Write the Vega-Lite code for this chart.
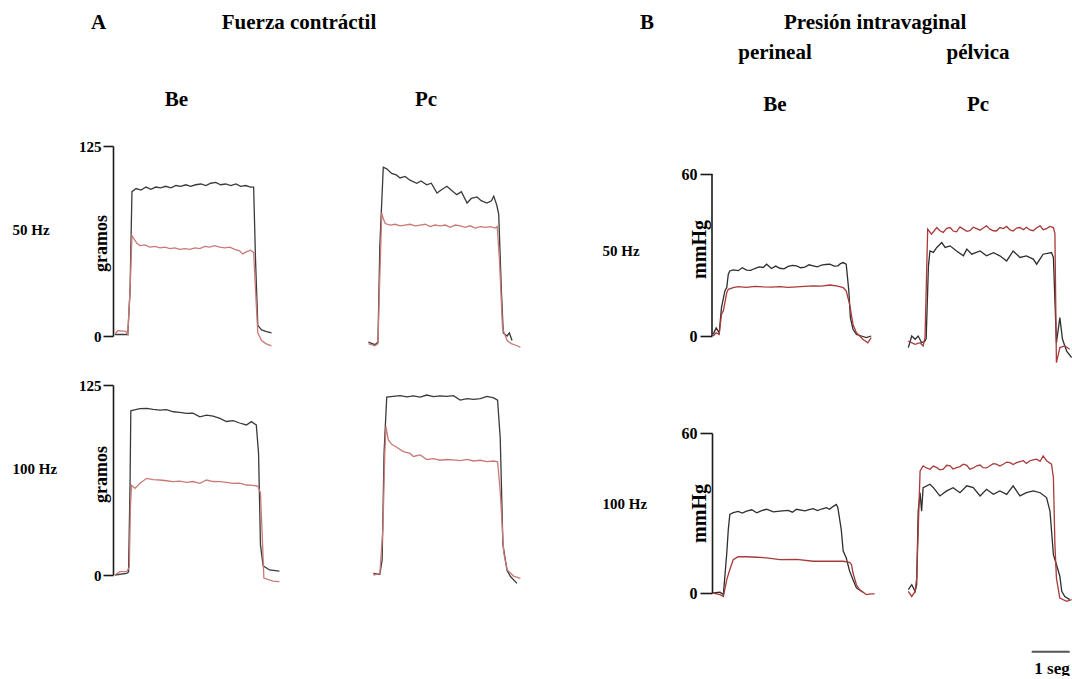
{
"$schema": "https://vega.github.io/schema/vega-lite/v6.json",
"background": "white",
"padding": {"left": 12, "top": 11, "right": 0, "bottom": 0},
"config": {
 "view": {"stroke": null},
 "font": "Liberation Serif",
 "title": {"font": "Liberation Serif", "fontSize": 21, "fontWeight": "bold", "color": "#000", "subtitleFont": "Liberation Serif", "subtitleFontSize": 21, "subtitleFontWeight": "bold", "subtitleColor": "#000", "frame": "group", "anchor": "middle"},
 "axis": {"grid": false, "domainColor": "#1a1a1a", "tickColor": "#1a1a1a", "domainWidth": 1.6, "tickWidth": 1.6, "labelFont": "Liberation Serif", "labelFontWeight": "bold", "labelColor": "#000", "titleFont": "Liberation Serif", "titleFontWeight": "bold", "titleColor": "#000"}
},
"data": {"name": "trazos"},
"datasets": {"trazos": [
{"p":"ABe50","s":"negro","t":0.05,"v":1},{"p":"ABe50","s":"negro","t":0.39,"v":1},{"p":"ABe50","s":"negro","t":0.45,"v":30},{"p":"ABe50","s":"negro","t":0.5,"v":95},{"p":"ABe50","s":"negro","t":0.61,"v":97},{"p":"ABe50","s":"negro","t":0.74,"v":96},{"p":"ABe50","s":"negro","t":0.87,"v":98},{"p":"ABe50","s":"negro","t":1.0,"v":96.5},{"p":"ABe50","s":"negro","t":1.13,"v":98},{"p":"ABe50","s":"negro","t":1.26,"v":97.5},{"p":"ABe50","s":"negro","t":1.39,"v":98.5},{"p":"ABe50","s":"negro","t":1.53,"v":97.5},{"p":"ABe50","s":"negro","t":1.66,"v":99},{"p":"ABe50","s":"negro","t":1.79,"v":98.5},{"p":"ABe50","s":"negro","t":1.92,"v":99.5},{"p":"ABe50","s":"negro","t":2.05,"v":98.5},{"p":"ABe50","s":"negro","t":2.18,"v":99.5},{"p":"ABe50","s":"negro","t":2.32,"v":100},{"p":"ABe50","s":"negro","t":2.45,"v":99},{"p":"ABe50","s":"negro","t":2.58,"v":100.5},{"p":"ABe50","s":"negro","t":2.71,"v":101},{"p":"ABe50","s":"negro","t":2.84,"v":99.5},{"p":"ABe50","s":"negro","t":2.97,"v":100},{"p":"ABe50","s":"negro","t":3.11,"v":99},{"p":"ABe50","s":"negro","t":3.24,"v":100},{"p":"ABe50","s":"negro","t":3.37,"v":98.5},{"p":"ABe50","s":"negro","t":3.5,"v":99},{"p":"ABe50","s":"negro","t":3.63,"v":98},{"p":"ABe50","s":"negro","t":3.71,"v":98},{"p":"ABe50","s":"negro","t":3.76,"v":50},{"p":"ABe50","s":"negro","t":3.82,"v":7},{"p":"ABe50","s":"negro","t":3.92,"v":4},{"p":"ABe50","s":"negro","t":4.03,"v":3},{"p":"ABe50","s":"negro","t":4.18,"v":2},
{"p":"ABe50","s":"rojo","t":0.05,"v":1.5},{"p":"ABe50","s":"rojo","t":0.13,"v":3.5},{"p":"ABe50","s":"rojo","t":0.34,"v":3},{"p":"ABe50","s":"rojo","t":0.39,"v":1},{"p":"ABe50","s":"rojo","t":0.45,"v":30},{"p":"ABe50","s":"rojo","t":0.5,"v":66},{"p":"ABe50","s":"rojo","t":0.55,"v":64},{"p":"ABe50","s":"rojo","t":0.63,"v":61},{"p":"ABe50","s":"rojo","t":0.71,"v":59.5},{"p":"ABe50","s":"rojo","t":0.84,"v":60},{"p":"ABe50","s":"rojo","t":0.97,"v":58.5},{"p":"ABe50","s":"rojo","t":1.11,"v":59},{"p":"ABe50","s":"rojo","t":1.24,"v":58},{"p":"ABe50","s":"rojo","t":1.37,"v":58.5},{"p":"ABe50","s":"rojo","t":1.5,"v":57.5},{"p":"ABe50","s":"rojo","t":1.63,"v":58},{"p":"ABe50","s":"rojo","t":1.76,"v":57},{"p":"ABe50","s":"rojo","t":1.89,"v":57.5},{"p":"ABe50","s":"rojo","t":2.03,"v":57},{"p":"ABe50","s":"rojo","t":2.16,"v":58},{"p":"ABe50","s":"rojo","t":2.29,"v":57.5},{"p":"ABe50","s":"rojo","t":2.42,"v":59},{"p":"ABe50","s":"rojo","t":2.55,"v":58.5},{"p":"ABe50","s":"rojo","t":2.68,"v":59.5},{"p":"ABe50","s":"rojo","t":2.82,"v":58.5},{"p":"ABe50","s":"rojo","t":2.95,"v":58},{"p":"ABe50","s":"rojo","t":3.08,"v":58.5},{"p":"ABe50","s":"rojo","t":3.21,"v":57},{"p":"ABe50","s":"rojo","t":3.34,"v":56},{"p":"ABe50","s":"rojo","t":3.42,"v":54},{"p":"ABe50","s":"rojo","t":3.53,"v":55.5},{"p":"ABe50","s":"rojo","t":3.63,"v":56.5},{"p":"ABe50","s":"rojo","t":3.71,"v":55},{"p":"ABe50","s":"rojo","t":3.76,"v":30},{"p":"ABe50","s":"rojo","t":3.82,"v":2},{"p":"ABe50","s":"rojo","t":3.92,"v":-3},{"p":"ABe50","s":"rojo","t":4.03,"v":-5},{"p":"ABe50","s":"rojo","t":4.18,"v":-6.5},
{"p":"APc50","s":"negro","t":0.09,"v":-4},{"p":"APc50","s":"negro","t":0.26,"v":-5.7},{"p":"APc50","s":"negro","t":0.34,"v":-4},{"p":"APc50","s":"negro","t":0.39,"v":60},{"p":"APc50","s":"negro","t":0.48,"v":111},{"p":"APc50","s":"negro","t":0.57,"v":110},{"p":"APc50","s":"negro","t":0.7,"v":107},{"p":"APc50","s":"negro","t":0.82,"v":106},{"p":"APc50","s":"negro","t":0.92,"v":104},{"p":"APc50","s":"negro","t":1.05,"v":105},{"p":"APc50","s":"negro","t":1.18,"v":102.5},{"p":"APc50","s":"negro","t":1.36,"v":100.5},{"p":"APc50","s":"negro","t":1.47,"v":102},{"p":"APc50","s":"negro","t":1.62,"v":99.5},{"p":"APc50","s":"negro","t":1.74,"v":100.5},{"p":"APc50","s":"negro","t":1.89,"v":94},{"p":"APc50","s":"negro","t":2.0,"v":96},{"p":"APc50","s":"negro","t":2.15,"v":98.5},{"p":"APc50","s":"negro","t":2.26,"v":96},{"p":"APc50","s":"negro","t":2.41,"v":93},{"p":"APc50","s":"negro","t":2.53,"v":95},{"p":"APc50","s":"negro","t":2.68,"v":87.5},{"p":"APc50","s":"negro","t":2.79,"v":90.5},{"p":"APc50","s":"negro","t":2.94,"v":91.5},{"p":"APc50","s":"negro","t":3.05,"v":89},{"p":"APc50","s":"negro","t":3.2,"v":87.5},{"p":"APc50","s":"negro","t":3.32,"v":89},{"p":"APc50","s":"negro","t":3.38,"v":92},{"p":"APc50","s":"negro","t":3.46,"v":86},{"p":"APc50","s":"negro","t":3.51,"v":80},{"p":"APc50","s":"negro","t":3.58,"v":30},{"p":"APc50","s":"negro","t":3.63,"v":2},{"p":"APc50","s":"negro","t":3.73,"v":0},{"p":"APc50","s":"negro","t":3.79,"v":2},{"p":"APc50","s":"negro","t":3.86,"v":-3},
{"p":"APc50","s":"rojo","t":0.09,"v":-5},{"p":"APc50","s":"rojo","t":0.26,"v":-6.5},{"p":"APc50","s":"rojo","t":0.34,"v":-5},{"p":"APc50","s":"rojo","t":0.39,"v":40},{"p":"APc50","s":"rojo","t":0.44,"v":81},{"p":"APc50","s":"rojo","t":0.47,"v":78},{"p":"APc50","s":"rojo","t":0.53,"v":74},{"p":"APc50","s":"rojo","t":0.66,"v":73},{"p":"APc50","s":"rojo","t":0.79,"v":73.5},{"p":"APc50","s":"rojo","t":0.92,"v":72.5},{"p":"APc50","s":"rojo","t":1.05,"v":73},{"p":"APc50","s":"rojo","t":1.18,"v":73.5},{"p":"APc50","s":"rojo","t":1.32,"v":72.5},{"p":"APc50","s":"rojo","t":1.45,"v":73},{"p":"APc50","s":"rojo","t":1.58,"v":73.5},{"p":"APc50","s":"rojo","t":1.71,"v":72},{"p":"APc50","s":"rojo","t":1.84,"v":73},{"p":"APc50","s":"rojo","t":1.97,"v":72.5},{"p":"APc50","s":"rojo","t":2.11,"v":73},{"p":"APc50","s":"rojo","t":2.24,"v":71.5},{"p":"APc50","s":"rojo","t":2.37,"v":73},{"p":"APc50","s":"rojo","t":2.5,"v":72.5},{"p":"APc50","s":"rojo","t":2.63,"v":71.5},{"p":"APc50","s":"rojo","t":2.76,"v":72.5},{"p":"APc50","s":"rojo","t":2.89,"v":71},{"p":"APc50","s":"rojo","t":3.03,"v":72},{"p":"APc50","s":"rojo","t":3.16,"v":71.5},{"p":"APc50","s":"rojo","t":3.29,"v":72},{"p":"APc50","s":"rojo","t":3.42,"v":71},{"p":"APc50","s":"rojo","t":3.47,"v":72},{"p":"APc50","s":"rojo","t":3.53,"v":50},{"p":"APc50","s":"rojo","t":3.61,"v":5},{"p":"APc50","s":"rojo","t":3.73,"v":-3},{"p":"APc50","s":"rojo","t":3.84,"v":-5},{"p":"APc50","s":"rojo","t":3.99,"v":-6.4},{"p":"APc50","s":"rojo","t":4.08,"v":-7.5},
{"p":"ABe100","s":"negro","t":0.05,"v":0},{"p":"ABe100","s":"negro","t":0.36,"v":1},{"p":"ABe100","s":"negro","t":0.41,"v":2},{"p":"ABe100","s":"negro","t":0.45,"v":60},{"p":"ABe100","s":"negro","t":0.47,"v":108},{"p":"ABe100","s":"negro","t":0.54,"v":108.5},{"p":"ABe100","s":"negro","t":0.71,"v":109.5},{"p":"ABe100","s":"negro","t":0.89,"v":109.6},{"p":"ABe100","s":"negro","t":1.06,"v":109},{"p":"ABe100","s":"negro","t":1.24,"v":108.5},{"p":"ABe100","s":"negro","t":1.41,"v":108.8},{"p":"ABe100","s":"negro","t":1.59,"v":107.4},{"p":"ABe100","s":"negro","t":1.76,"v":107},{"p":"ABe100","s":"negro","t":1.94,"v":106.3},{"p":"ABe100","s":"negro","t":2.11,"v":106.5},{"p":"ABe100","s":"negro","t":2.29,"v":104},{"p":"ABe100","s":"negro","t":2.47,"v":105.2},{"p":"ABe100","s":"negro","t":2.64,"v":104.5},{"p":"ABe100","s":"negro","t":2.82,"v":103},{"p":"ABe100","s":"negro","t":2.99,"v":101},{"p":"ABe100","s":"negro","t":3.17,"v":101.5},{"p":"ABe100","s":"negro","t":3.34,"v":100},{"p":"ABe100","s":"negro","t":3.52,"v":98.7},{"p":"ABe100","s":"negro","t":3.65,"v":100.9},{"p":"ABe100","s":"negro","t":3.78,"v":98.7},{"p":"ABe100","s":"negro","t":3.84,"v":80},{"p":"ABe100","s":"negro","t":3.89,"v":20},{"p":"ABe100","s":"negro","t":3.96,"v":6},{"p":"ABe100","s":"negro","t":4.13,"v":3.3},{"p":"ABe100","s":"negro","t":4.39,"v":2.6},
{"p":"ABe100","s":"rojo","t":0.05,"v":0},{"p":"ABe100","s":"rojo","t":0.18,"v":2.2},{"p":"ABe100","s":"rojo","t":0.36,"v":2.2},{"p":"ABe100","s":"rojo","t":0.43,"v":5},{"p":"ABe100","s":"rojo","t":0.46,"v":45},{"p":"ABe100","s":"rojo","t":0.49,"v":59},{"p":"ABe100","s":"rojo","t":0.58,"v":57},{"p":"ABe100","s":"rojo","t":0.71,"v":60.3},{"p":"ABe100","s":"rojo","t":0.89,"v":63.6},{"p":"ABe100","s":"rojo","t":1.06,"v":62.8},{"p":"ABe100","s":"rojo","t":1.24,"v":62.5},{"p":"ABe100","s":"rojo","t":1.41,"v":62},{"p":"ABe100","s":"rojo","t":1.59,"v":61.4},{"p":"ABe100","s":"rojo","t":1.76,"v":61.8},{"p":"ABe100","s":"rojo","t":1.94,"v":61},{"p":"ABe100","s":"rojo","t":2.11,"v":61.5},{"p":"ABe100","s":"rojo","t":2.29,"v":60.3},{"p":"ABe100","s":"rojo","t":2.47,"v":62.5},{"p":"ABe100","s":"rojo","t":2.64,"v":61.5},{"p":"ABe100","s":"rojo","t":2.82,"v":61.4},{"p":"ABe100","s":"rojo","t":2.99,"v":61},{"p":"ABe100","s":"rojo","t":3.17,"v":60.3},{"p":"ABe100","s":"rojo","t":3.34,"v":60.5},{"p":"ABe100","s":"rojo","t":3.52,"v":59.2},{"p":"ABe100","s":"rojo","t":3.69,"v":59},{"p":"ABe100","s":"rojo","t":3.82,"v":58.5},{"p":"ABe100","s":"rojo","t":3.89,"v":54},{"p":"ABe100","s":"rojo","t":3.93,"v":30},{"p":"ABe100","s":"rojo","t":3.98,"v":-2},{"p":"ABe100","s":"rojo","t":4.22,"v":-4},{"p":"ABe100","s":"rojo","t":4.39,"v":-4.4},
{"p":"APc100","s":"negro","t":0.22,"v":1},{"p":"APc100","s":"negro","t":0.39,"v":0.5},{"p":"APc100","s":"negro","t":0.45,"v":10},{"p":"APc100","s":"negro","t":0.5,"v":80},{"p":"APc100","s":"negro","t":0.57,"v":117},{"p":"APc100","s":"negro","t":0.74,"v":117.5},{"p":"APc100","s":"negro","t":0.92,"v":118},{"p":"APc100","s":"negro","t":1.1,"v":117.2},{"p":"APc100","s":"negro","t":1.27,"v":117.8},{"p":"APc100","s":"negro","t":1.45,"v":117},{"p":"APc100","s":"negro","t":1.62,"v":118.4},{"p":"APc100","s":"negro","t":1.8,"v":117.4},{"p":"APc100","s":"negro","t":1.97,"v":117.8},{"p":"APc100","s":"negro","t":2.15,"v":117.5},{"p":"APc100","s":"negro","t":2.32,"v":118},{"p":"APc100","s":"negro","t":2.5,"v":115.1},{"p":"APc100","s":"negro","t":2.68,"v":116},{"p":"APc100","s":"negro","t":2.85,"v":115.5},{"p":"APc100","s":"negro","t":3.03,"v":116},{"p":"APc100","s":"negro","t":3.2,"v":117.5},{"p":"APc100","s":"negro","t":3.38,"v":116.5},{"p":"APc100","s":"negro","t":3.48,"v":115},{"p":"APc100","s":"negro","t":3.55,"v":90},{"p":"APc100","s":"negro","t":3.62,"v":20},{"p":"APc100","s":"negro","t":3.73,"v":3},{"p":"APc100","s":"negro","t":3.82,"v":-1},{"p":"APc100","s":"negro","t":3.99,"v":-5.5},
{"p":"APc100","s":"rojo","t":0.22,"v":0},{"p":"APc100","s":"rojo","t":0.39,"v":1},{"p":"APc100","s":"rojo","t":0.47,"v":30},{"p":"APc100","s":"rojo","t":0.52,"v":80},{"p":"APc100","s":"rojo","t":0.55,"v":97.6},{"p":"APc100","s":"rojo","t":0.61,"v":89},{"p":"APc100","s":"rojo","t":0.7,"v":86},{"p":"APc100","s":"rojo","t":0.83,"v":84},{"p":"APc100","s":"rojo","t":1.01,"v":81.2},{"p":"APc100","s":"rojo","t":1.18,"v":80},{"p":"APc100","s":"rojo","t":1.27,"v":78},{"p":"APc100","s":"rojo","t":1.45,"v":79},{"p":"APc100","s":"rojo","t":1.62,"v":76},{"p":"APc100","s":"rojo","t":1.8,"v":76.5},{"p":"APc100","s":"rojo","t":1.97,"v":75.5},{"p":"APc100","s":"rojo","t":2.15,"v":76},{"p":"APc100","s":"rojo","t":2.32,"v":75.7},{"p":"APc100","s":"rojo","t":2.5,"v":75.2},{"p":"APc100","s":"rojo","t":2.68,"v":76},{"p":"APc100","s":"rojo","t":2.85,"v":75},{"p":"APc100","s":"rojo","t":3.03,"v":75.5},{"p":"APc100","s":"rojo","t":3.2,"v":74.6},{"p":"APc100","s":"rojo","t":3.38,"v":75},{"p":"APc100","s":"rojo","t":3.48,"v":74.5},{"p":"APc100","s":"rojo","t":3.55,"v":55},{"p":"APc100","s":"rojo","t":3.64,"v":15},{"p":"APc100","s":"rojo","t":3.73,"v":3.3},{"p":"APc100","s":"rojo","t":3.9,"v":-0.7},{"p":"APc100","s":"rojo","t":4.08,"v":-2.2},
{"p":"BBe50","s":"negro","t":0.03,"v":0.6},{"p":"BBe50","s":"negro","t":0.11,"v":3},{"p":"BBe50","s":"negro","t":0.19,"v":1.2},{"p":"BBe50","s":"negro","t":0.25,"v":10.5},{"p":"BBe50","s":"negro","t":0.34,"v":16.7},{"p":"BBe50","s":"negro","t":0.39,"v":18},{"p":"BBe50","s":"negro","t":0.43,"v":22.9},{"p":"BBe50","s":"negro","t":0.47,"v":24.1},{"p":"BBe50","s":"negro","t":0.56,"v":24.5},{"p":"BBe50","s":"negro","t":0.69,"v":24.2},{"p":"BBe50","s":"negro","t":0.8,"v":25.3},{"p":"BBe50","s":"negro","t":0.91,"v":24.4},{"p":"BBe50","s":"negro","t":1.02,"v":24.3},{"p":"BBe50","s":"negro","t":1.13,"v":25},{"p":"BBe50","s":"negro","t":1.24,"v":25.6},{"p":"BBe50","s":"negro","t":1.35,"v":25.4},{"p":"BBe50","s":"negro","t":1.44,"v":26.6},{"p":"BBe50","s":"negro","t":1.57,"v":25},{"p":"BBe50","s":"negro","t":1.68,"v":25.9},{"p":"BBe50","s":"negro","t":1.79,"v":25.1},{"p":"BBe50","s":"negro","t":1.9,"v":24.9},{"p":"BBe50","s":"negro","t":2.01,"v":25.8},{"p":"BBe50","s":"negro","t":2.12,"v":26.2},{"p":"BBe50","s":"negro","t":2.23,"v":26},{"p":"BBe50","s":"negro","t":2.34,"v":25.3},{"p":"BBe50","s":"negro","t":2.45,"v":25.5},{"p":"BBe50","s":"negro","t":2.56,"v":26.4},{"p":"BBe50","s":"negro","t":2.67,"v":26},{"p":"BBe50","s":"negro","t":2.78,"v":25.6},{"p":"BBe50","s":"negro","t":2.89,"v":26.3},{"p":"BBe50","s":"negro","t":3.0,"v":26.5},{"p":"BBe50","s":"negro","t":3.11,"v":26.6},{"p":"BBe50","s":"negro","t":3.22,"v":25.9},{"p":"BBe50","s":"negro","t":3.32,"v":26},{"p":"BBe50","s":"negro","t":3.39,"v":26.8},{"p":"BBe50","s":"negro","t":3.46,"v":27.2},{"p":"BBe50","s":"negro","t":3.54,"v":26.6},{"p":"BBe50","s":"negro","t":3.61,"v":16.7},{"p":"BBe50","s":"negro","t":3.65,"v":6.8},{"p":"BBe50","s":"negro","t":3.72,"v":2.5},{"p":"BBe50","s":"negro","t":3.81,"v":0.6},{"p":"BBe50","s":"negro","t":3.94,"v":0},{"p":"BBe50","s":"negro","t":4.07,"v":-0.6},{"p":"BBe50","s":"negro","t":4.2,"v":0},
{"p":"BBe50","s":"rojo","t":0.03,"v":0},{"p":"BBe50","s":"rojo","t":0.11,"v":1.2},{"p":"BBe50","s":"rojo","t":0.19,"v":0.6},{"p":"BBe50","s":"rojo","t":0.25,"v":8},{"p":"BBe50","s":"rojo","t":0.3,"v":9.3},{"p":"BBe50","s":"rojo","t":0.39,"v":16.1},{"p":"BBe50","s":"rojo","t":0.43,"v":17.3},{"p":"BBe50","s":"rojo","t":0.56,"v":17.9},{"p":"BBe50","s":"rojo","t":0.69,"v":18.3},{"p":"BBe50","s":"rojo","t":0.91,"v":18},{"p":"BBe50","s":"rojo","t":1.13,"v":18.4},{"p":"BBe50","s":"rojo","t":1.35,"v":18.2},{"p":"BBe50","s":"rojo","t":1.57,"v":18.1},{"p":"BBe50","s":"rojo","t":1.79,"v":18.3},{"p":"BBe50","s":"rojo","t":2.01,"v":18},{"p":"BBe50","s":"rojo","t":2.23,"v":18.2},{"p":"BBe50","s":"rojo","t":2.45,"v":18.4},{"p":"BBe50","s":"rojo","t":2.67,"v":18.6},{"p":"BBe50","s":"rojo","t":2.89,"v":18.5},{"p":"BBe50","s":"rojo","t":3.11,"v":18.9},{"p":"BBe50","s":"rojo","t":3.32,"v":18.5},{"p":"BBe50","s":"rojo","t":3.46,"v":17.9},{"p":"BBe50","s":"rojo","t":3.54,"v":16.7},{"p":"BBe50","s":"rojo","t":3.63,"v":11.8},{"p":"BBe50","s":"rojo","t":3.72,"v":4.3},{"p":"BBe50","s":"rojo","t":3.81,"v":1.2},{"p":"BBe50","s":"rojo","t":3.98,"v":-1.2},{"p":"BBe50","s":"rojo","t":4.11,"v":-2.5},{"p":"BBe50","s":"rojo","t":4.2,"v":-0.6},
{"p":"BPc50","s":"negro","t":0.14,"v":-4.3},{"p":"BPc50","s":"negro","t":0.23,"v":0},{"p":"BPc50","s":"negro","t":0.32,"v":-1.2},{"p":"BPc50","s":"negro","t":0.4,"v":0},{"p":"BPc50","s":"negro","t":0.49,"v":-2.5},{"p":"BPc50","s":"negro","t":0.58,"v":-1.9},{"p":"BPc50","s":"negro","t":0.61,"v":-1},{"p":"BPc50","s":"negro","t":0.67,"v":26},{"p":"BPc50","s":"negro","t":0.71,"v":31.5},{"p":"BPc50","s":"negro","t":0.8,"v":31},{"p":"BPc50","s":"negro","t":0.89,"v":32.8},{"p":"BPc50","s":"negro","t":1.02,"v":34.6},{"p":"BPc50","s":"negro","t":1.11,"v":32.8},{"p":"BPc50","s":"negro","t":1.24,"v":33.4},{"p":"BPc50","s":"negro","t":1.41,"v":31.5},{"p":"BPc50","s":"negro","t":1.59,"v":29.7},{"p":"BPc50","s":"negro","t":1.68,"v":32.2},{"p":"BPc50","s":"negro","t":1.81,"v":30.3},{"p":"BPc50","s":"negro","t":2.03,"v":31.5},{"p":"BPc50","s":"negro","t":2.2,"v":29.7},{"p":"BPc50","s":"negro","t":2.38,"v":30.9},{"p":"BPc50","s":"negro","t":2.55,"v":29.7},{"p":"BPc50","s":"negro","t":2.73,"v":27.8},{"p":"BPc50","s":"negro","t":2.9,"v":31.5},{"p":"BPc50","s":"negro","t":3.08,"v":29.1},{"p":"BPc50","s":"negro","t":3.25,"v":29.7},{"p":"BPc50","s":"negro","t":3.43,"v":28.5},{"p":"BPc50","s":"negro","t":3.52,"v":26.6},{"p":"BPc50","s":"negro","t":3.69,"v":30.3},{"p":"BPc50","s":"negro","t":3.91,"v":30.9},{"p":"BPc50","s":"negro","t":3.96,"v":29.1},{"p":"BPc50","s":"negro","t":4.04,"v":-2.5},{"p":"BPc50","s":"negro","t":4.13,"v":6.8},{"p":"BPc50","s":"negro","t":4.2,"v":-1.2},{"p":"BPc50","s":"negro","t":4.31,"v":-5.6},{"p":"BPc50","s":"negro","t":4.44,"v":-8},
{"p":"BPc50","s":"rojo","t":0.14,"v":-1.9},{"p":"BPc50","s":"rojo","t":0.32,"v":-3.1},{"p":"BPc50","s":"rojo","t":0.45,"v":-2.5},{"p":"BPc50","s":"rojo","t":0.53,"v":-3.7},{"p":"BPc50","s":"rojo","t":0.58,"v":-0.6},{"p":"BPc50","s":"rojo","t":0.65,"v":39.6},{"p":"BPc50","s":"rojo","t":0.75,"v":37.7},{"p":"BPc50","s":"rojo","t":0.89,"v":40.2},{"p":"BPc50","s":"rojo","t":0.97,"v":39},{"p":"BPc50","s":"rojo","t":1.06,"v":38.4},{"p":"BPc50","s":"rojo","t":1.15,"v":39.9},{"p":"BPc50","s":"rojo","t":1.24,"v":40.2},{"p":"BPc50","s":"rojo","t":1.32,"v":38.9},{"p":"BPc50","s":"rojo","t":1.41,"v":38.6},{"p":"BPc50","s":"rojo","t":1.5,"v":40.4},{"p":"BPc50","s":"rojo","t":1.59,"v":39.6},{"p":"BPc50","s":"rojo","t":1.68,"v":38.8},{"p":"BPc50","s":"rojo","t":1.76,"v":39},{"p":"BPc50","s":"rojo","t":1.85,"v":40.3},{"p":"BPc50","s":"rojo","t":1.94,"v":39.8},{"p":"BPc50","s":"rojo","t":2.03,"v":39.2},{"p":"BPc50","s":"rojo","t":2.11,"v":40},{"p":"BPc50","s":"rojo","t":2.2,"v":40.8},{"p":"BPc50","s":"rojo","t":2.29,"v":39.6},{"p":"BPc50","s":"rojo","t":2.38,"v":39},{"p":"BPc50","s":"rojo","t":2.46,"v":38.9},{"p":"BPc50","s":"rojo","t":2.55,"v":40.2},{"p":"BPc50","s":"rojo","t":2.64,"v":39.8},{"p":"BPc50","s":"rojo","t":2.73,"v":40.6},{"p":"BPc50","s":"rojo","t":2.82,"v":39.3},{"p":"BPc50","s":"rojo","t":2.9,"v":38.9},{"p":"BPc50","s":"rojo","t":2.99,"v":40},{"p":"BPc50","s":"rojo","t":3.08,"v":40.2},{"p":"BPc50","s":"rojo","t":3.17,"v":39.4},{"p":"BPc50","s":"rojo","t":3.25,"v":40.3},{"p":"BPc50","s":"rojo","t":3.34,"v":39.3},{"p":"BPc50","s":"rojo","t":3.43,"v":39},{"p":"BPc50","s":"rojo","t":3.52,"v":40.1},{"p":"BPc50","s":"rojo","t":3.61,"v":40.8},{"p":"BPc50","s":"rojo","t":3.69,"v":39.4},{"p":"BPc50","s":"rojo","t":3.78,"v":39.8},{"p":"BPc50","s":"rojo","t":3.87,"v":40.6},{"p":"BPc50","s":"rojo","t":3.96,"v":40.2},{"p":"BPc50","s":"rojo","t":4.0,"v":38},{"p":"BPc50","s":"rojo","t":4.04,"v":-9.9},{"p":"BPc50","s":"rojo","t":4.13,"v":-4.3},{"p":"BPc50","s":"rojo","t":4.26,"v":-3.7},{"p":"BPc50","s":"rojo","t":4.39,"v":-4.9},
{"p":"BBe100","s":"negro","t":0.03,"v":0},{"p":"BBe100","s":"negro","t":0.21,"v":0.3},{"p":"BBe100","s":"negro","t":0.3,"v":-0.6},{"p":"BBe100","s":"negro","t":0.39,"v":15},{"p":"BBe100","s":"negro","t":0.43,"v":23.8},{"p":"BBe100","s":"negro","t":0.47,"v":29.5},{"p":"BBe100","s":"negro","t":0.56,"v":30.1},{"p":"BBe100","s":"negro","t":0.69,"v":30.6},{"p":"BBe100","s":"negro","t":0.8,"v":30},{"p":"BBe100","s":"negro","t":0.91,"v":30.7},{"p":"BBe100","s":"negro","t":1.05,"v":31.2},{"p":"BBe100","s":"negro","t":1.18,"v":30.1},{"p":"BBe100","s":"negro","t":1.31,"v":30.9},{"p":"BBe100","s":"negro","t":1.44,"v":31.4},{"p":"BBe100","s":"negro","t":1.62,"v":30.4},{"p":"BBe100","s":"negro","t":1.79,"v":30.7},{"p":"BBe100","s":"negro","t":2.01,"v":31},{"p":"BBe100","s":"negro","t":2.12,"v":30.3},{"p":"BBe100","s":"negro","t":2.23,"v":31.4},{"p":"BBe100","s":"negro","t":2.45,"v":30.8},{"p":"BBe100","s":"negro","t":2.56,"v":31.3},{"p":"BBe100","s":"negro","t":2.67,"v":31.6},{"p":"BBe100","s":"negro","t":2.78,"v":30.9},{"p":"BBe100","s":"negro","t":2.89,"v":31.5},{"p":"BBe100","s":"negro","t":3.02,"v":32},{"p":"BBe100","s":"negro","t":3.1,"v":31.4},{"p":"BBe100","s":"negro","t":3.19,"v":32.4},{"p":"BBe100","s":"negro","t":3.28,"v":33.2},{"p":"BBe100","s":"negro","t":3.32,"v":32},{"p":"BBe100","s":"negro","t":3.41,"v":23.8},{"p":"BBe100","s":"negro","t":3.46,"v":15.7},{"p":"BBe100","s":"negro","t":3.54,"v":13.2},{"p":"BBe100","s":"negro","t":3.63,"v":8.2},{"p":"BBe100","s":"negro","t":3.72,"v":5},{"p":"BBe100","s":"negro","t":3.81,"v":1.9},{"p":"BBe100","s":"negro","t":3.98,"v":0.3},
{"p":"BBe100","s":"rojo","t":0.03,"v":0},{"p":"BBe100","s":"rojo","t":0.21,"v":-0.6},{"p":"BBe100","s":"rojo","t":0.3,"v":-1.3},{"p":"BBe100","s":"rojo","t":0.39,"v":5},{"p":"BBe100","s":"rojo","t":0.47,"v":8.8},{"p":"BBe100","s":"rojo","t":0.56,"v":12.5},{"p":"BBe100","s":"rojo","t":0.69,"v":13.6},{"p":"BBe100","s":"rojo","t":0.91,"v":13.6},{"p":"BBe100","s":"rojo","t":1.18,"v":13.4},{"p":"BBe100","s":"rojo","t":1.44,"v":13.2},{"p":"BBe100","s":"rojo","t":1.79,"v":12.5},{"p":"BBe100","s":"rojo","t":2.23,"v":12.6},{"p":"BBe100","s":"rojo","t":2.67,"v":11.9},{"p":"BBe100","s":"rojo","t":3.11,"v":11.9},{"p":"BBe100","s":"rojo","t":3.46,"v":11.9},{"p":"BBe100","s":"rojo","t":3.63,"v":11.5},{"p":"BBe100","s":"rojo","t":3.68,"v":10.7},{"p":"BBe100","s":"rojo","t":3.72,"v":7.5},{"p":"BBe100","s":"rojo","t":3.81,"v":3.1},{"p":"BBe100","s":"rojo","t":3.89,"v":1.3},{"p":"BBe100","s":"rojo","t":4.07,"v":-0.6},{"p":"BBe100","s":"rojo","t":4.2,"v":-0.3},{"p":"BBe100","s":"rojo","t":4.29,"v":-0.3},
{"p":"BPc100","s":"negro","t":0.14,"v":1.3},{"p":"BPc100","s":"negro","t":0.23,"v":3.1},{"p":"BPc100","s":"negro","t":0.32,"v":0.6},{"p":"BPc100","s":"negro","t":0.36,"v":3.1},{"p":"BPc100","s":"negro","t":0.4,"v":30.7},{"p":"BPc100","s":"negro","t":0.45,"v":37.6},{"p":"BPc100","s":"negro","t":0.49,"v":30.7},{"p":"BPc100","s":"negro","t":0.53,"v":39.5},{"p":"BPc100","s":"negro","t":0.71,"v":40.8},{"p":"BPc100","s":"negro","t":0.8,"v":39.5},{"p":"BPc100","s":"negro","t":0.97,"v":36.4},{"p":"BPc100","s":"negro","t":1.15,"v":38.3},{"p":"BPc100","s":"negro","t":1.32,"v":39.5},{"p":"BPc100","s":"negro","t":1.5,"v":37.6},{"p":"BPc100","s":"negro","t":1.68,"v":40.2},{"p":"BPc100","s":"negro","t":1.85,"v":39.5},{"p":"BPc100","s":"negro","t":2.03,"v":36.4},{"p":"BPc100","s":"negro","t":2.2,"v":38.9},{"p":"BPc100","s":"negro","t":2.38,"v":37},{"p":"BPc100","s":"negro","t":2.55,"v":38.3},{"p":"BPc100","s":"negro","t":2.73,"v":37},{"p":"BPc100","s":"negro","t":2.9,"v":40.2},{"p":"BPc100","s":"negro","t":3.08,"v":36.4},{"p":"BPc100","s":"negro","t":3.25,"v":37.6},{"p":"BPc100","s":"negro","t":3.43,"v":38.3},{"p":"BPc100","s":"negro","t":3.61,"v":37.6},{"p":"BPc100","s":"negro","t":3.78,"v":35.8},{"p":"BPc100","s":"negro","t":3.87,"v":30.7},{"p":"BPc100","s":"negro","t":3.96,"v":14.4},{"p":"BPc100","s":"negro","t":4.04,"v":10.7},{"p":"BPc100","s":"negro","t":4.13,"v":6.3},{"p":"BPc100","s":"negro","t":4.18,"v":0.6},{"p":"BPc100","s":"negro","t":4.26,"v":-1.3},{"p":"BPc100","s":"negro","t":4.39,"v":-2.5},
{"p":"BPc100","s":"rojo","t":0.14,"v":0.6},{"p":"BPc100","s":"rojo","t":0.23,"v":-1.3},{"p":"BPc100","s":"rojo","t":0.32,"v":0.6},{"p":"BPc100","s":"rojo","t":0.36,"v":5.6},{"p":"BPc100","s":"rojo","t":0.45,"v":45.8},{"p":"BPc100","s":"rojo","t":0.53,"v":47.7},{"p":"BPc100","s":"rojo","t":0.62,"v":46.9},{"p":"BPc100","s":"rojo","t":0.71,"v":46.4},{"p":"BPc100","s":"rojo","t":0.8,"v":47.6},{"p":"BPc100","s":"rojo","t":0.89,"v":47},{"p":"BPc100","s":"rojo","t":0.97,"v":46.2},{"p":"BPc100","s":"rojo","t":1.06,"v":46.4},{"p":"BPc100","s":"rojo","t":1.15,"v":47.9},{"p":"BPc100","s":"rojo","t":1.24,"v":47.7},{"p":"BPc100","s":"rojo","t":1.32,"v":46.5},{"p":"BPc100","s":"rojo","t":1.41,"v":47},{"p":"BPc100","s":"rojo","t":1.5,"v":47.4},{"p":"BPc100","s":"rojo","t":1.59,"v":48.3},{"p":"BPc100","s":"rojo","t":1.68,"v":47.9},{"p":"BPc100","s":"rojo","t":1.76,"v":46.4},{"p":"BPc100","s":"rojo","t":1.85,"v":46.9},{"p":"BPc100","s":"rojo","t":1.94,"v":47.7},{"p":"BPc100","s":"rojo","t":2.03,"v":48},{"p":"BPc100","s":"rojo","t":2.11,"v":47},{"p":"BPc100","s":"rojo","t":2.2,"v":46.9},{"p":"BPc100","s":"rojo","t":2.29,"v":47.7},{"p":"BPc100","s":"rojo","t":2.38,"v":48.5},{"p":"BPc100","s":"rojo","t":2.46,"v":48.3},{"p":"BPc100","s":"rojo","t":2.55,"v":47.6},{"p":"BPc100","s":"rojo","t":2.64,"v":48.3},{"p":"BPc100","s":"rojo","t":2.73,"v":49.1},{"p":"BPc100","s":"rojo","t":2.82,"v":48.9},{"p":"BPc100","s":"rojo","t":2.9,"v":48.2},{"p":"BPc100","s":"rojo","t":2.99,"v":48.9},{"p":"BPc100","s":"rojo","t":3.08,"v":49.3},{"p":"BPc100","s":"rojo","t":3.17,"v":49.6},{"p":"BPc100","s":"rojo","t":3.25,"v":48.6},{"p":"BPc100","s":"rojo","t":3.34,"v":49.6},{"p":"BPc100","s":"rojo","t":3.43,"v":49.9},{"p":"BPc100","s":"rojo","t":3.52,"v":50.2},{"p":"BPc100","s":"rojo","t":3.61,"v":49.4},{"p":"BPc100","s":"rojo","t":3.69,"v":51.4},{"p":"BPc100","s":"rojo","t":3.78,"v":49.6},{"p":"BPc100","s":"rojo","t":3.91,"v":48.3},{"p":"BPc100","s":"rojo","t":3.96,"v":43.3},{"p":"BPc100","s":"rojo","t":4.0,"v":18.2},{"p":"BPc100","s":"rojo","t":4.04,"v":5.6},{"p":"BPc100","s":"rojo","t":4.13,"v":-1.9},{"p":"BPc100","s":"rojo","t":4.31,"v":-3.1},{"p":"BPc100","s":"rojo","t":4.44,"v":-2.5}
]},
"spacing": 77,
"hconcat": [
 {
  "title": {"text": "A", "anchor": "start", "frame": "bounds", "dx": 79, "dy": 21, "offset": 0},
  "spacing": 28,
  "vconcat": [
   {
    "title": {"text": "Fuerza contráctil", "anchor": "middle", "frame": "bounds", "dx": 30.5, "offset": 56},
    "bounds": "flush",
    "spacing": 89,
    "hconcat": [
     {
      "width": 163, "height": 190,
      "title": {"text": "Be", "dx": -18, "offset": 29},
      "transform": [{"filter": "datum.p === 'ABe50'"}],
      "mark": {"type": "line", "strokeWidth": 1.3},
      "encoding": {
       "x": {"field": "t", "type": "quantitative", "scale": {"domain": [0, 4.3], "nice": false, "zero": false},
             "axis": {"domain": false, "ticks": false, "labels": false, "title": "50 Hz", "titleAngle": 0, "titleX": -101, "titleY": -102, "titleAlign": "left", "titleBaseline": "alphabetic", "titleFontSize": 15}},
       "y": {"field": "v", "type": "quantitative", "scale": {"domain": [0, 125], "nice": false, "zero": false},
             "axis": {"values": [0, 125], "tickSize": 10, "labelPadding": 2, "labelFontSize": 15, "title": "gramos", "titleFontSize": 18, "titleX": -7, "titleY": 97, "titleAngle": 270, "titleAlign": "center", "titleBaseline": "alphabetic"}},
       "detail": {"field": "s"},
       "color": {"condition": {"test": "datum.s === 'rojo'", "value": "#c97a78"}, "value": "#3a3a3a"}
      }
     },
     {
      "width": 160, "height": 190,
      "title": {"text": "Pc", "dx": -19, "offset": 36.5},
      "transform": [{"filter": "datum.p === 'APc50'"}],
      "mark": {"type": "line", "strokeWidth": 1.3},
      "encoding": {
       "x": {"field": "t", "type": "quantitative", "scale": {"domain": [0, 4.2], "nice": false, "zero": false}, "axis": null},
       "y": {"field": "v", "type": "quantitative", "scale": {"domain": [0, 125], "nice": false, "zero": false}, "axis": null},
       "detail": {"field": "s"},
       "color": {"condition": {"test": "datum.s === 'rojo'", "value": "#c97a78"}, "value": "#3a3a3a"}
      }
     }
    ]
   },
   {
    "bounds": "flush",
    "spacing": 89,
    "hconcat": [
     {
      "width": 163, "height": 190,
      "transform": [{"filter": "datum.p === 'ABe100'"}],
      "mark": {"type": "line", "strokeWidth": 1.3},
      "encoding": {
       "x": {"field": "t", "type": "quantitative", "scale": {"domain": [0, 4.3], "nice": false, "zero": false},
             "axis": {"domain": false, "ticks": false, "labels": false, "title": "100 Hz", "titleAngle": 0, "titleX": -101, "titleY": -102, "titleAlign": "left", "titleBaseline": "alphabetic", "titleFontSize": 15}},
       "y": {"field": "v", "type": "quantitative", "scale": {"domain": [0, 125], "nice": false, "zero": false},
             "axis": {"values": [0, 125], "tickSize": 10, "labelPadding": 2, "labelFontSize": 15, "title": "gramos", "titleFontSize": 18, "titleX": -7, "titleY": 89, "titleAngle": 270, "titleAlign": "center", "titleBaseline": "alphabetic"}},
       "detail": {"field": "s"},
       "color": {"condition": {"test": "datum.s === 'rojo'", "value": "#c97a78"}, "value": "#3a3a3a"}
      }
     },
     {
      "width": 160, "height": 190,
      "transform": [{"filter": "datum.p === 'APc100'"}],
      "mark": {"type": "line", "strokeWidth": 1.3},
      "encoding": {
       "x": {"field": "t", "type": "quantitative", "scale": {"domain": [0, 4.2], "nice": false, "zero": false}, "axis": null},
       "y": {"field": "v", "type": "quantitative", "scale": {"domain": [0, 125], "nice": false, "zero": false}, "axis": null},
       "detail": {"field": "s"},
       "color": {"condition": {"test": "datum.s === 'rojo'", "value": "#c97a78"}, "value": "#3a3a3a"}
      }
     }
    ]
   }
  ]
 },
 {
  "title": {"text": "B", "anchor": "start", "frame": "bounds", "dx": 38, "dy": 21, "offset": 0},
  "spacing": 59,
  "vconcat": [
   {
    "title": {"text": "Presión intravaginal", "anchor": "middle", "frame": "bounds", "dx": 37, "offset": 9.2},
    "bounds": "flush",
    "spacing": 28,
    "hconcat": [
     {
      "width": 163, "height": 190,
      "title": {"text": "perineal", "subtitle": "Be", "subtitlePadding": 31, "dx": -18.5, "offset": 31},
      "layer": [
       {
        "transform": [{"filter": "datum.p === 'BBe50'"}],
        "mark": {"type": "line", "strokeWidth": 1.3},
        "encoding": {
         "x": {"field": "t", "type": "quantitative", "scale": {"domain": [0, 4.3], "nice": false, "zero": false},
               "axis": {"domain": false, "ticks": false, "labels": false, "title": "50 Hz", "titleAngle": 0, "titleX": -110, "titleY": -81, "titleAlign": "left", "titleBaseline": "alphabetic", "titleFontSize": 15}},
         "y": {"field": "v", "type": "quantitative", "scale": {"domain": [0, 70.4], "nice": false, "zero": false},
               "axis": {"domain": false, "values": [0, 60], "tickSize": 12, "labelPadding": 3, "labelFontSize": 16, "title": "mmHg", "titleFontSize": 20, "titleX": -7, "titleY": 103, "titleAngle": 270, "titleAlign": "center", "titleBaseline": "alphabetic"}},
         "detail": {"field": "s"},
         "color": {"condition": {"test": "datum.s === 'rojo'", "value": "#a83a3a"}, "value": "#2e2e2e"}
        }
       },
       {
        "data": {"values": [{}]},
        "mark": {"type": "rule", "strokeWidth": 1.6, "color": "#1a1a1a"},
        "encoding": {"x": {"datum": 0}, "y": {"datum": 0}, "y2": {"datum": 60}}
       }
      ]
     },
     {
      "width": 169, "height": 190,
      "title": {"text": "pélvica", "subtitle": "Pc", "subtitlePadding": 31, "dx": -9.5, "offset": 31},
      "transform": [{"filter": "datum.p === 'BPc50'"}],
      "mark": {"type": "line", "strokeWidth": 1.3},
      "encoding": {
       "x": {"field": "t", "type": "quantitative", "scale": {"domain": [0, 4.45], "nice": false, "zero": false}, "axis": null},
       "y": {"field": "v", "type": "quantitative", "scale": {"domain": [0, 70.4], "nice": false, "zero": false}, "axis": null},
       "detail": {"field": "s"},
       "color": {"condition": {"test": "datum.s === 'rojo'", "value": "#a83a3a"}, "value": "#2e2e2e"}
      }
     }
    ]
   },
   {
    "bounds": "flush",
    "spacing": 28,
    "hconcat": [
     {
      "width": 163, "height": 160,
      "transform": [{"filter": "datum.p === 'BBe100'"}],
      "mark": {"type": "line", "strokeWidth": 1.3},
      "encoding": {
       "x": {"field": "t", "type": "quantitative", "scale": {"domain": [0, 4.3], "nice": false, "zero": false},
             "axis": {"domain": false, "ticks": false, "labels": false, "title": "100 Hz", "titleAngle": 0, "titleX": -110, "titleY": -85, "titleAlign": "left", "titleBaseline": "alphabetic", "titleFontSize": 15}},
       "y": {"field": "v", "type": "quantitative", "scale": {"domain": [0, 60], "nice": false, "zero": false},
             "axis": {"values": [0, 60], "tickSize": 12, "labelPadding": 3, "labelFontSize": 16, "title": "mmHg", "titleFontSize": 20, "titleX": -7, "titleY": 80, "titleAngle": 270, "titleAlign": "center", "titleBaseline": "alphabetic"}},
       "detail": {"field": "s"},
       "color": {"condition": {"test": "datum.s === 'rojo'", "value": "#a83a3a"}, "value": "#2e2e2e"}
      }
     },
     {
      "width": 169, "height": 160,
      "layer": [
       {
        "transform": [{"filter": "datum.p === 'BPc100'"}],
        "mark": {"type": "line", "strokeWidth": 1.3},
        "encoding": {
         "x": {"field": "t", "type": "quantitative", "scale": {"domain": [0, 4.45], "nice": false, "zero": false},
               "axis": {"domain": false, "ticks": false, "labels": false, "title": "1 seg", "titleAngle": 0, "titleX": 148.5, "titleY": 80, "titleAlign": "center", "titleBaseline": "alphabetic", "titleFontSize": 17}},
         "y": {"field": "v", "type": "quantitative", "scale": {"domain": [0, 60], "nice": false, "zero": false}, "axis": null},
         "detail": {"field": "s"},
         "color": {"condition": {"test": "datum.s === 'rojo'", "value": "#a83a3a"}, "value": "#2e2e2e"}
        }
       },
       {
        "data": {"values": [{}]},
        "mark": {"type": "rule", "strokeWidth": 2, "color": "#555555"},
        "encoding": {"x": {"datum": 3.39}, "x2": {"datum": 4.39}, "y": {"datum": -22}}
       }
      ]
     }
    ]
   }
  ]
 }
]
}
